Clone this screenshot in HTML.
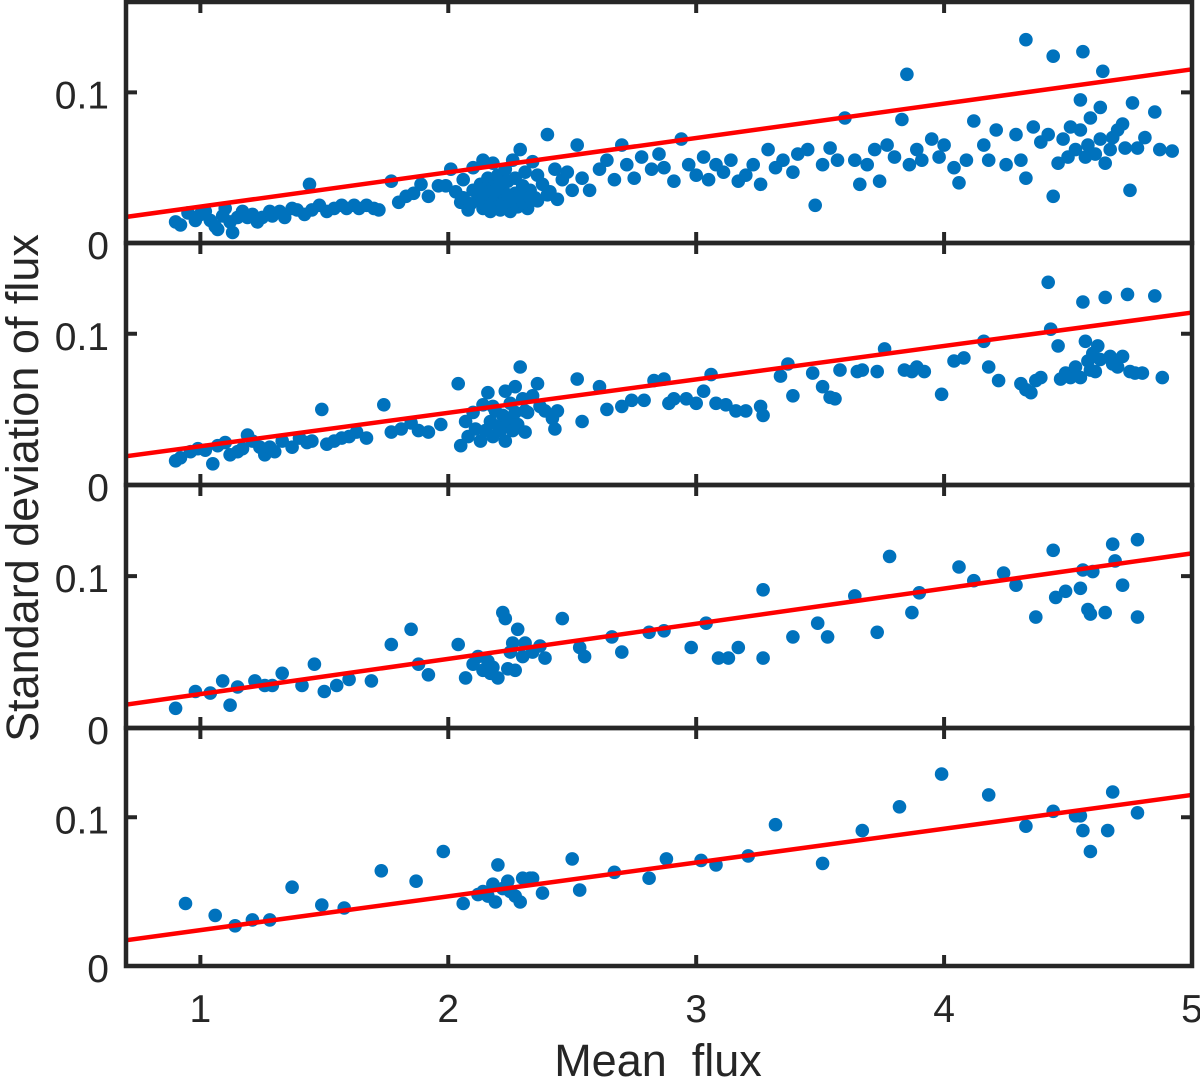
<!DOCTYPE html>
<html><head><meta charset="utf-8"><style>
html,body{margin:0;padding:0;background:#fff;}
svg{display:block;font-family:"Liberation Sans",Arial,sans-serif;}
</style></head><body>
<svg id="chart" width="1200" height="1081" viewBox="0 0 1200 1081" xmlns="http://www.w3.org/2000/svg"></svg>
<script>
const xTicks=[1,2,3,4,5];
const yTicks=[0,0.1];
const yTickLabels=["0","0.1"];
const p1x=[.90,.92,.95,.98,1.00,1.02,1.04,1.06,1.07,1.09,1.10,1.12,1.13,1.15,1.17,1.19,1.21,1.23,1.25,1.28,1.29,1.32,1.34,1.37,1.39,1.42,1.44,1.45,1.48,1.51,1.54,1.57,1.59,1.62,1.64,1.67,1.70,1.72,1.77,1.80,1.83,1.86,1.89,1.92,1.96,1.99,2.01,2.03,2.05,2.06,2.08,2.10,2.10,2.12,2.13,2.14,2.14,2.15,2.16,2.17,2.18,2.18,2.19,2.20,2.21,2.22,2.23,2.23,2.24,2.25,2.26,2.27,2.27,2.28,2.29,2.30,2.31,2.31,2.32,2.33,2.34,2.35,2.36,2.38,2.40,2.41,2.43,2.44,2.46,2.48,2.50,2.52,2.54,2.57,2.61,2.64,2.67,2.70,2.72,2.75,2.78,2.82,2.85,2.87,2.91,2.94,2.97,3.00,3.03,3.05,3.08,3.11,3.14,3.17,3.20,3.23,3.26,3.29,3.32,3.35,3.39,3.41,3.45,3.48,3.51,3.54,3.57,3.60,3.64,3.66,3.69,3.72,3.74,3.77,3.80,3.83,3.85,3.86,3.89,3.91,3.95,3.98,4.00,4.04,4.06,4.09,4.12,4.16,4.18,4.21,4.25,4.29,4.31,4.33,4.33,4.36,4.39,4.42,4.44,4.46,4.48,4.50,4.51,4.53,4.55,4.55,4.56,4.57,4.58,4.59,4.61,4.63,4.63,4.64,4.65,4.67,4.68,4.70,4.72,4.73,4.75,4.76,4.78,4.81,4.85,4.87,4.92,
2.15,2.18,2.20,2.22,2.25,2.28,2.30,2.12,2.24,2.19,2.26,2.17,2.21,2.29,2.33,2.14,2.06,2.09,2.36,2.40,4.44];
const p1y=[.014,.012,.020,.015,.019,.021,.015,.011,.009,.018,.023,.014,.007,.017,.021,.017,.019,.014,.017,.021,.018,.021,.017,.023,.022,.019,.039,.022,.025,.021,.023,.025,.023,.025,.023,.025,.023,.022,.041,.027,.031,.033,.039,.031,.038,.038,.049,.034,.027,.042,.022,.035,.050,.029,.039,.023,.055,.031,.043,.021,.037,.053,.029,.045,.022,.035,.049,.029,.041,.021,.055,.033,.043,.025,.062,.038,.029,.047,.023,.035,.054,.030,.045,.039,.072,.034,.049,.029,.042,.047,.035,.065,.043,.035,.049,.055,.042,.065,.052,.043,.057,.049,.059,.050,.041,.069,.052,.045,.057,.042,.052,.047,.055,.041,.045,.052,.039,.062,.050,.055,.047,.059,.062,.025,.052,.063,.055,.083,.055,.039,.052,.062,.041,.065,.057,.082,.112,.052,.062,.055,.069,.057,.065,.050,.040,.055,.081,.065,.055,.075,.052,.072,.055,.043,.135,.077,.067,.072,.031,.053,.069,.057,.077,.062,.095,.075,.127,.057,.065,.083,.059,.069,.090,.114,.053,.062,.070,.075,.079,.063,.035,.093,.063,.070,.087,.062,.061,
.025,.027,.024,.026,.028,.024,.027,.028,.032,.035,.030,.022,.040,.033,.030,.033,.030,.026,.028,.032,.124];
const p2x=[.90,.92,.96,.99,1.02,1.05,1.07,1.10,1.12,1.15,1.17,1.19,1.21,1.24,1.26,1.28,1.30,1.33,1.37,1.40,1.43,1.45,1.49,1.51,1.54,1.57,1.60,1.63,1.67,1.74,1.77,1.81,1.85,1.88,1.92,1.97,2.04,2.05,2.07,2.08,2.10,2.11,2.13,2.14,2.15,2.16,2.17,2.18,2.18,2.19,2.20,2.21,2.22,2.23,2.23,2.24,2.25,2.26,2.27,2.27,2.28,2.29,2.30,2.31,2.31,2.32,2.34,2.36,2.37,2.39,2.42,2.43,2.44,2.52,2.54,2.61,2.64,2.70,2.74,2.79,2.83,2.87,2.89,2.91,2.96,3.00,3.03,3.06,3.08,3.12,3.16,3.20,3.26,3.27,3.34,3.37,3.39,3.47,3.51,3.54,3.56,3.58,3.65,3.67,3.73,3.76,3.84,3.87,3.89,3.92,3.99,4.04,4.08,4.16,4.18,4.22,4.31,4.33,4.35,4.37,4.39,4.42,4.43,4.46,4.47,4.49,4.51,4.53,4.55,4.56,4.57,4.58,4.59,4.60,4.61,4.62,4.63,4.65,4.67,4.68,4.70,4.72,4.74,4.75,4.77,4.80,4.85,4.88];
const p2y=[.016,.018,.022,.024,.023,.014,.026,.028,.020,.022,.024,.033,.029,.025,.020,.025,.022,.029,.025,.031,.028,.029,.050,.027,.029,.031,.032,.035,.031,.053,.035,.037,.041,.036,.035,.040,.067,.026,.042,.032,.048,.037,.029,.053,.036,.061,.042,.032,.052,.049,.039,.036,.046,.029,.062,.042,.054,.036,.065,.048,.040,.078,.057,.049,.035,.048,.059,.067,.052,.049,.044,.037,.049,.070,.042,.065,.050,.052,.056,.056,.069,.070,.054,.057,.057,.054,.062,.073,.054,.053,.049,.049,.052,.046,.072,.080,.059,.074,.065,.058,.057,.076,.075,.076,.075,.090,.076,.075,.078,.075,.060,.082,.084,.095,.078,.069,.067,.063,.061,.069,.071,.134,.103,.092,.070,.074,.071,.078,.071,.121,.095,.082,.076,.087,.075,.092,.083,.124,.085,.080,.078,.085,.126,.075,.074,.074,.125,.071];
const p3x=[.90,.98,1.04,1.09,1.12,1.15,1.22,1.26,1.29,1.33,1.41,1.46,1.50,1.55,1.60,1.69,1.77,1.85,1.88,1.92,2.04,2.07,2.10,2.12,2.14,2.16,2.17,2.18,2.20,2.22,2.23,2.24,2.25,2.26,2.27,2.28,2.30,2.31,2.34,2.37,2.39,2.46,2.53,2.55,2.66,2.70,2.81,2.87,2.98,3.04,3.09,3.13,3.17,3.27,3.27,3.39,3.49,3.53,3.64,3.73,3.78,3.87,3.90,4.06,4.12,4.24,4.29,4.37,4.44,4.45,4.49,4.55,4.56,4.58,4.59,4.60,4.65,4.68,4.69,4.72,4.78,4.78];
const p3y=[.013,.024,.023,.031,.015,.027,.031,.028,.028,.036,.028,.042,.024,.028,.032,.031,.055,.065,.042,.035,.055,.033,.042,.047,.038,.044,.036,.040,.033,.076,.072,.039,.050,.056,.038,.065,.047,.056,.050,.054,.046,.072,.053,.047,.060,.050,.063,.064,.053,.069,.046,.046,.053,.091,.046,.060,.069,.060,.087,.063,.113,.076,.089,.106,.097,.102,.094,.073,.117,.086,.090,.092,.104,.078,.075,.103,.076,.121,.110,.094,.124,.073];
const p4x=[.94,1.06,1.14,1.21,1.28,1.37,1.49,1.58,1.73,1.87,1.98,2.06,2.12,2.14,2.16,2.18,2.19,2.20,2.22,2.24,2.25,2.27,2.29,2.30,2.33,2.34,2.38,2.50,2.53,2.67,2.81,2.88,3.02,3.08,3.21,3.32,3.51,3.67,3.82,3.99,4.18,4.33,4.44,4.53,4.55,4.59,4.56,4.66,4.68,4.78];
const p4y=[.042,.034,.027,.031,.031,.053,.041,.039,.064,.057,.077,.042,.048,.050,.047,.055,.043,.068,.052,.057,.050,.047,.043,.059,.059,.059,.049,.072,.051,.063,.059,.072,.071,.068,.074,.095,.069,.091,.107,.129,.115,.094,.104,.101,.101,.077,.091,.091,.117,.103];
const fitStart=[0.0173,0.019,0.0154,0.0173];
const fitEnd=[0.1153,0.114,0.115,0.115];

const NS="http://www.w3.org/2000/svg";
const svg=document.getElementById('chart');
const X0=126,X1=1192,XMIN=0.7,XMAX=5.0;
const panelTops=[2,243,485,728],panelBots=[243,485,728,966];
const YMAX=0.16;
function sx(v){return X0+(v-XMIN)/(XMAX-XMIN)*(X1-X0);}
function mk(tag,attrs){const e=document.createElementNS(NS,tag);for(const k in attrs)e.setAttribute(k,attrs[k]);return e;}
const xs=[p1x,p2x,p3x,p4x],ys=[p1y,p2y,p3y,p4y];
for(let p=0;p<4;p++){
  const t=panelTops[p],b=panelBots[p];
  const sy=v=>b-(v/YMAX)*(b-t);
  const g=mk('g',{});
  
  
  svg.appendChild(g);
  for(let i=0;i<xs[p].length;i++){
    const c=mk('circle',{cx:sx(xs[p][i]).toFixed(1),cy:sy(ys[p][i]).toFixed(1),r:6.8,fill:'#0072BD'});
    
    
    g.appendChild(c);
  }
  const ln=mk('line',{x1:sx(XMIN),y1:sy(fitStart[p]),x2:sx(XMAX),y2:sy(fitEnd[p]),stroke:'#ff0000','stroke-width':4.5});
  
  
  g.appendChild(ln);
  const fr=mk('rect',{x:X0,y:t,width:X1-X0,height:b-t,fill:'none',stroke:'#262626','stroke-width':4.5});
  
  
  g.appendChild(fr);
  for(const v of xTicks){
    const x=sx(v);
    g.appendChild(mk('line',{x1:x,y1:b,x2:x,y2:b-11,stroke:'#262626','stroke-width':4}));
    g.appendChild(mk('line',{x1:x,y1:t,x2:x,y2:t+11,stroke:'#262626','stroke-width':4}));
  }
  yTicks.forEach((v,i)=>{
    const y=sy(v);
    g.appendChild(mk('line',{x1:X0,y1:y,x2:X0+11,y2:y,stroke:'#262626','stroke-width':4}));
    g.appendChild(mk('line',{x1:X1,y1:y,x2:X1-11,y2:y,stroke:'#262626','stroke-width':4}));
    const tx=mk('text',{x:109,y:y+16,'text-anchor':'end','font-size':39,fill:'#262626'});
    tx.textContent=yTickLabels[i];
    
    
    g.appendChild(tx);
  });
}
xTicks.forEach(v=>{
  const tx=mk('text',{x:sx(v),y:1022,'text-anchor':'middle','font-size':39,fill:'#262626'});
  tx.textContent=String(v);
  
  
  svg.appendChild(tx);
});
const xt=mk('text',{x:658,y:1076,'text-anchor':'middle','font-size':45,fill:'#262626'});
xt.setAttribute('style','white-space:pre');
xt.textContent='Mean  flux';


svg.appendChild(xt);
const yt=mk('text',{x:0,y:0,'text-anchor':'middle','font-size':45,fill:'#262626',transform:'translate(38,488) rotate(-90)'});
yt.textContent='Standard deviation of flux';


svg.appendChild(yt);
</script>
</body></html>
